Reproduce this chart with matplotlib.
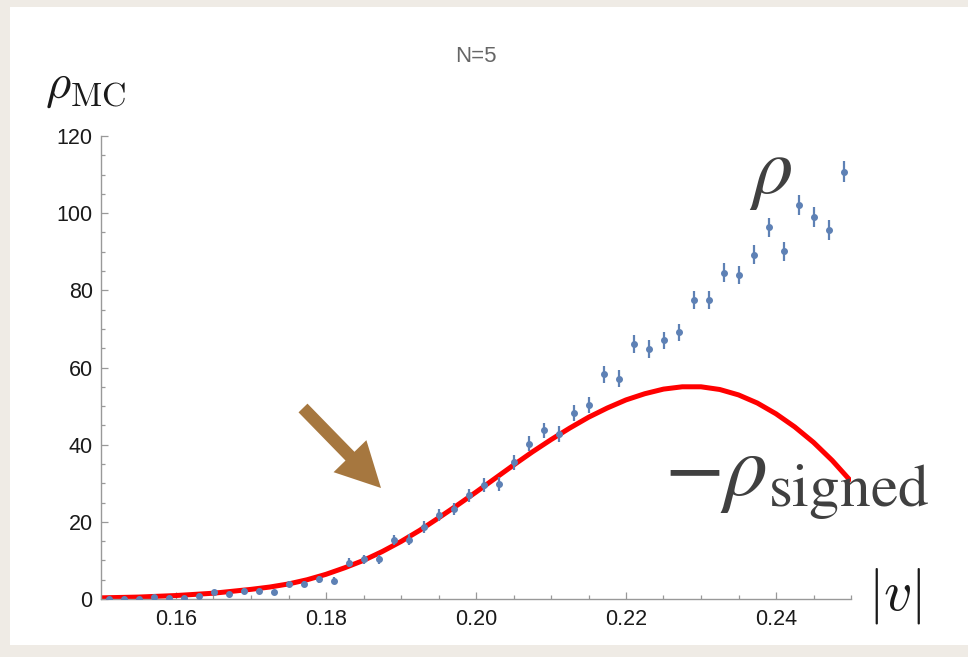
import matplotlib
matplotlib.use("Agg")
from matplotlib import pyplot as plt
from matplotlib.patches import Rectangle, FancyArrowPatch

# Monte Carlo estimate rho_MC vs |v|, N=5
v_mc = [0.151, 0.153, 0.155, 0.157, 0.159, 0.161, 0.163, 0.165, 0.167, 0.169,
        0.171, 0.173, 0.175, 0.177, 0.179, 0.181, 0.183, 0.185, 0.187, 0.189,
        0.191, 0.193, 0.195, 0.197, 0.199, 0.201, 0.203, 0.205, 0.207, 0.209,
        0.211, 0.213, 0.215, 0.217, 0.219, 0.221, 0.223, 0.225, 0.227, 0.229,
        0.231, 0.233, 0.235, 0.237, 0.239, 0.241, 0.243, 0.245, 0.247, 0.249]
rho_mc = [0.1, 0.1, 0.1, 0.6, 0.3, 0.3, 0.9, 1.7, 1.3, 2.2,
          2.1, 1.7, 3.8, 3.9, 5.1, 4.7, 9.4, 10.3, 10.3, 15.3,
          15.4, 18.6, 21.7, 23.3, 26.9, 29.5, 29.7, 35.4, 40.3, 43.7,
          42.8, 48.3, 50.2, 58.2, 57.1, 66.1, 64.8, 67.0, 69.1, 77.5,
          77.5, 84.6, 84.0, 89.2, 96.3, 90.1, 102.2, 99.1, 95.6, 110.7]
rho_err = [0.2, 0.2, 0.2, 0.3, 0.3, 0.3, 0.4, 0.5, 0.5, 0.6,
           0.6, 0.6, 0.8, 0.8, 0.9, 0.9, 1.1, 1.2, 1.2, 1.4,
           1.4, 1.5, 1.6, 1.6, 1.7, 1.8, 1.8, 1.9, 2.0, 2.0,
           2.0, 2.1, 2.1, 2.2, 2.2, 2.3, 2.3, 2.3, 2.3, 2.4,
           2.4, 2.4, 2.4, 2.5, 2.5, 2.5, 2.6, 2.6, 2.6, 2.7]

# -rho_signed curve
v_curve = [0.1500, 0.1525, 0.1550, 0.1575, 0.1600, 0.1625, 0.1650, 0.1675,
           0.1700, 0.1725, 0.1750, 0.1775, 0.1800, 0.1825, 0.1850, 0.1875,
           0.1900, 0.1925, 0.1950, 0.1975, 0.2000, 0.2025, 0.2050, 0.2075,
           0.2100, 0.2125, 0.2150, 0.2175, 0.2200, 0.2225, 0.2250, 0.2275,
           0.2300, 0.2325, 0.2350, 0.2375, 0.2400, 0.2425, 0.2450, 0.2475,
           0.2500]
rho_signed = [0.3, 0.4, 0.5, 0.7, 0.9, 1.2, 1.5, 2.0,
              2.5, 3.1, 3.9, 5.0, 6.4, 8.1, 10.0, 12.3,
              14.9, 17.8, 21.0, 24.3, 27.7, 31.2, 34.7, 38.1,
              41.3, 44.3, 47.1, 49.5, 51.6, 53.2, 54.4, 55.0,
              55.0, 54.3, 52.9, 50.8, 48.0, 44.6, 40.6, 35.9,
              30.5]

x_ticks = [0.16, 0.18, 0.20, 0.22, 0.24]
y_ticks = [0, 20, 40, 60, 80, 100, 120]

W, H = 968, 657
def fx(px):
    return px / W
def fy(py):
    return 1 - py / H

fig = plt.figure(figsize=(9.68, 6.57), dpi=100)
fig.patch.set_facecolor('#efebe5')
fig.patches.append(Rectangle((fx(10), fy(645)), 1, fy(7) - fy(645),
                             transform=fig.transFigure, facecolor='white',
                             edgecolor='none', zorder=-10))

ax = fig.add_axes([fx(101), fy(599), fx(851) - fx(101), fy(136) - fy(599)])
ax.set_facecolor('none')
ax.set_zorder(1)

ax.plot(v_curve, rho_signed, color='red', lw=3.6, solid_capstyle='butt', zorder=2)
ax.errorbar(v_mc, rho_mc, yerr=rho_err, fmt='o', ms=4.0, color='#5e81b5',
            elinewidth=1.6, capsize=0, zorder=3)

ax.set_xlim(0.15, 0.25)
ax.set_ylim(0, 120)
ax.set_xticks(x_ticks)
ax.set_xticklabels(['%.2f' % t for t in x_ticks])
ax.set_yticks(y_ticks)
ax.set_xticks([0.15 + 0.005 * i for i in range(21)], minor=True)
ax.set_yticks([5 * i for i in range(25)], minor=True)

for s in ['top', 'right']:
    ax.spines[s].set_visible(False)
for s in ['left', 'bottom']:
    ax.spines[s].set_color('#999999')
    ax.spines[s].set_linewidth(1.0)

ax.tick_params(which='both', direction='in', colors='#999999', width=0.9,
               labelcolor='#1a1a1a', labelsize=15.5)
ax.tick_params(which='major', length=5)
ax.tick_params(which='minor', length=2.8)
ax.tick_params(axis='x', pad=7)
ax.tick_params(axis='y', pad=6)
for lab in ax.get_xticklabels() + ax.get_yticklabels():
    lab.set_family(['Liberation Sans', 'DejaVu Sans'])

# title and axis labels
fig.text(fx(476), fy(57), 'N=5', ha='center', va='center', color='#666666',
         fontsize=16, family=['Liberation Sans Narrow', 'Liberation Sans', 'DejaVu Sans'])
fig.text(fx(85), fy(86), r'$\rho_{\mathrm{MC}}$', ha='center', va='center',
         fontsize=35, color='#1a1a1a', math_fontfamily='cm')
fig.text(fx(895), fy(596), r'$|v|$', ha='center', va='center',
         fontsize=40, color='#1a1a1a', math_fontfamily='cm')

# curve annotations
fig.text(fx(771), fy(173), r'$\rho$', ha='center', va='center',
         fontsize=58, color='#404040', math_fontfamily='stix')
fig.text(fx(797), fy(480), r'$-\rho_{\mathrm{signed}}$', ha='center', va='center',
         fontsize=63, color='#404040', math_fontfamily='stix')

# brown arrow
fig.patches.append(FancyArrowPatch(
    (fx(303), fy(408)), (fx(381), fy(488)), transform=fig.transFigure,
    arrowstyle='simple,head_length=32,head_width=33,tail_width=9',
    mutation_scale=1, color='#a6773f', lw=0, shrinkA=0, shrinkB=0, zorder=5))

fig.savefig('out.png', dpi=100, facecolor=fig.get_facecolor())
